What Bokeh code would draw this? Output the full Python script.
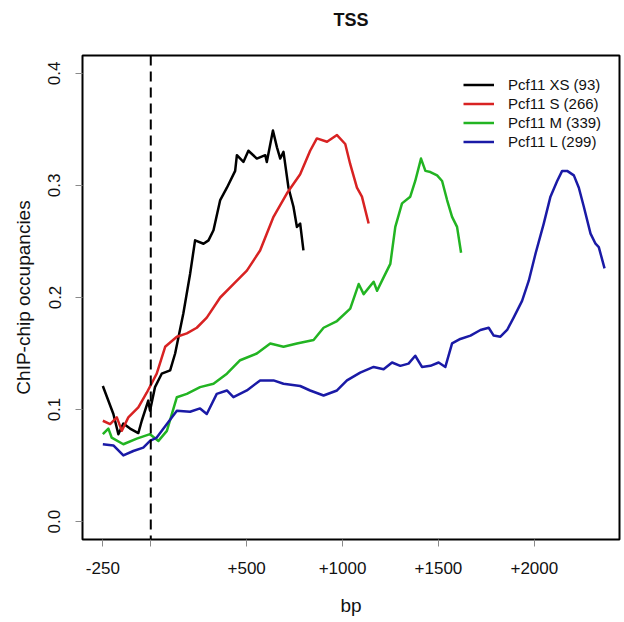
from bokeh.plotting import figure
from bokeh.models import Range1d, FixedTicker, Span, Legend, LegendItem, Title
from bokeh.embed import file_html
from bokeh.resources import INLINE

# ---- data ----
xs_bp = [-250, -195, -169, -143, -108, -65, -47, -13, -4, 22, 57, 101, 127, 170, 205, 231, 275, 301,
         327, 362, 397, 440, 449, 483, 509, 553, 597, 605, 637, 658, 675, 692, 718, 744, 762, 779, 796]
xs_occ = [0.121, 0.096, 0.078, 0.0875, 0.083, 0.079, 0.090, 0.108, 0.099, 0.120, 0.132, 0.135, 0.150,
          0.186, 0.221, 0.251, 0.248, 0.251, 0.260, 0.287, 0.298, 0.313, 0.327, 0.321, 0.331, 0.324,
          0.327, 0.321, 0.349, 0.334, 0.324, 0.330, 0.298, 0.281, 0.263, 0.266, 0.242]

s_bp = [-250, -212, -177, -151, -117, -65, -21, 31, 75, 136, 188, 240, 292, 362, 431, 501, 570, 640,
        710, 779, 831, 866, 919, 971, 1014, 1040, 1075, 1101, 1136]
s_occ = [0.090, 0.087, 0.093, 0.081, 0.093, 0.102, 0.115, 0.132, 0.156, 0.165, 0.168, 0.173, 0.182,
         0.200, 0.212, 0.224, 0.242, 0.272, 0.293, 0.310, 0.331, 0.342, 0.339, 0.345, 0.337, 0.319,
         0.298, 0.290, 0.266]

m_bp = [-250, -221, -204, -143, -73, -4, 40, 84, 136, 188, 257, 327, 397, 466, 553, 623, 692, 762,
        849, 901, 971, 1040, 1084, 1110, 1162, 1180, 1214, 1249, 1275, 1310, 1353, 1379, 1409, 1432,
        1458, 1493, 1519, 1545, 1571, 1597, 1618]
m_occ = [0.078, 0.083, 0.075, 0.069, 0.074, 0.078, 0.072, 0.081, 0.111, 0.114, 0.120, 0.123, 0.132,
         0.144, 0.150, 0.159, 0.156, 0.159, 0.162, 0.173, 0.179, 0.190, 0.212, 0.203, 0.214, 0.206,
         0.218, 0.230, 0.263, 0.284, 0.290, 0.304, 0.324, 0.313, 0.312, 0.309, 0.304, 0.287, 0.272,
         0.263, 0.240]

l_bp = [-250, -195, -143, -91, -39, -4, 31, 84, 136, 205, 257, 292, 344, 397, 431, 501, 570, 640,
        692, 779, 831, 901, 971, 1023, 1092, 1162, 1214, 1258, 1301, 1344, 1379, 1414, 1458, 1501,
        1536, 1571, 1614, 1667, 1719, 1762, 1788, 1823, 1858, 1892, 1936, 1971, 2006, 2049, 2084,
        2119, 2145, 2171, 2206, 2232, 2258, 2293, 2319, 2336, 2366]
l_occ = [0.069, 0.068, 0.059, 0.063, 0.066, 0.072, 0.075, 0.087, 0.099, 0.098, 0.101, 0.096, 0.114,
         0.117, 0.111, 0.117, 0.126, 0.126, 0.123, 0.121, 0.117, 0.1125, 0.117, 0.126, 0.133, 0.138,
         0.136, 0.142, 0.139, 0.141, 0.148, 0.138, 0.139, 0.142, 0.138, 0.159, 0.163, 0.166, 0.171,
         0.173, 0.166, 0.165, 0.171, 0.182, 0.197, 0.215, 0.239, 0.266, 0.290, 0.304, 0.313, 0.313,
         0.309, 0.298, 0.281, 0.257, 0.248, 0.245, 0.226]

series_labels = ["Pcf11 XS (93)", "Pcf11 S (266)", "Pcf11 M (339)", "Pcf11 L (299)"]
series_colors = ["#000000", "#D82222", "#22B422", "#1A1AA6"]

x_ticks = [-250, 0, 500, 1000, 1500, 2000]
x_tick_labels = ["-250", "", "+500", "+1000", "+1500", "+2000"]
y_ticks = [0.0, 0.1, 0.2, 0.3, 0.4]
y_tick_labels = ["0.0", "0.1", "0.2", "0.3", "0.4"]

title_text = "TSS"
x_title = "bp"
y_title = "ChIP-chip occupancies"

FONT = "Liberation Sans"

p = figure(width=624, height=622, output_backend="svg", toolbar_location=None,
           x_range=Range1d(-356, 2444), y_range=Range1d(-0.016, 0.416),
           min_border_left=82, min_border_right=5, min_border_top=55, min_border_bottom=83)
p.background_fill_color = "white"
p.border_fill_color = "white"
p.grid.visible = False
p.outline_line_color = "black"
p.outline_line_width = 2

# spacer between frame and title so that the title sits higher
p.add_layout(Title(text=" ", text_font_size="1px", standoff=18), "above")

p.title.text = title_text
p.title.align = "center"
p.title.text_font = FONT
p.title.text_font_size = "18px"
p.title.text_font_style = "bold"
p.title.text_color = "#111111"
p.title.standoff = 10

for ax in (p.xaxis[0], p.yaxis[0]):
    ax.axis_line_color = None
    ax.major_tick_line_color = "#8a8a8a"
    ax.major_tick_line_width = 1
    ax.major_tick_out = 7
    ax.major_tick_in = 0
    ax.minor_tick_line_color = None
    ax.major_label_text_font = FONT
    ax.major_label_text_font_size = "17px"
    ax.major_label_text_color = "#111111"
    ax.axis_label_text_font = FONT
    ax.axis_label_text_font_size = "19px"
    ax.axis_label_text_font_style = "normal"
    ax.axis_label_text_color = "#111111"

p.xaxis.ticker = FixedTicker(ticks=x_ticks)
p.xaxis.major_label_overrides = {t: l for t, l in zip(x_ticks, x_tick_labels)}
p.xaxis.major_label_standoff = 15
p.xaxis.axis_label = x_title
p.xaxis.axis_label_standoff = 18

p.yaxis.ticker = FixedTicker(ticks=y_ticks)
p.yaxis.major_label_overrides = {t: l for t, l in zip(y_ticks, y_tick_labels)}
p.yaxis.major_label_orientation = "vertical"
p.yaxis.major_label_standoff = 15
p.yaxis.axis_label = y_title
p.yaxis.axis_label_standoff = 12

p.add_layout(Span(location=0, dimension="height", line_color="black", line_width=2, line_dash="10 6"))

renderers = []
for xs, ys, c in [(xs_bp, xs_occ, series_colors[0]), (s_bp, s_occ, series_colors[1]),
                  (m_bp, m_occ, series_colors[2]), (l_bp, l_occ, series_colors[3])]:
    renderers.append(p.line(xs, ys, line_color=c, line_width=2.5, line_join="round"))

legend = Legend(items=[LegendItem(label=lab, renderers=[r]) for lab, r in zip(series_labels, renderers)],
                location=(381, 388), padding=0, spacing=0, margin=0,
                glyph_width=31, glyph_height=19, label_height=19, label_standoff=14,
                label_text_font=FONT, label_text_font_size="15px", label_text_color="#111111",
                border_line_color=None, background_fill_alpha=0)
p.add_layout(legend)

open("out.html", "w").write(file_html(p, INLINE))
